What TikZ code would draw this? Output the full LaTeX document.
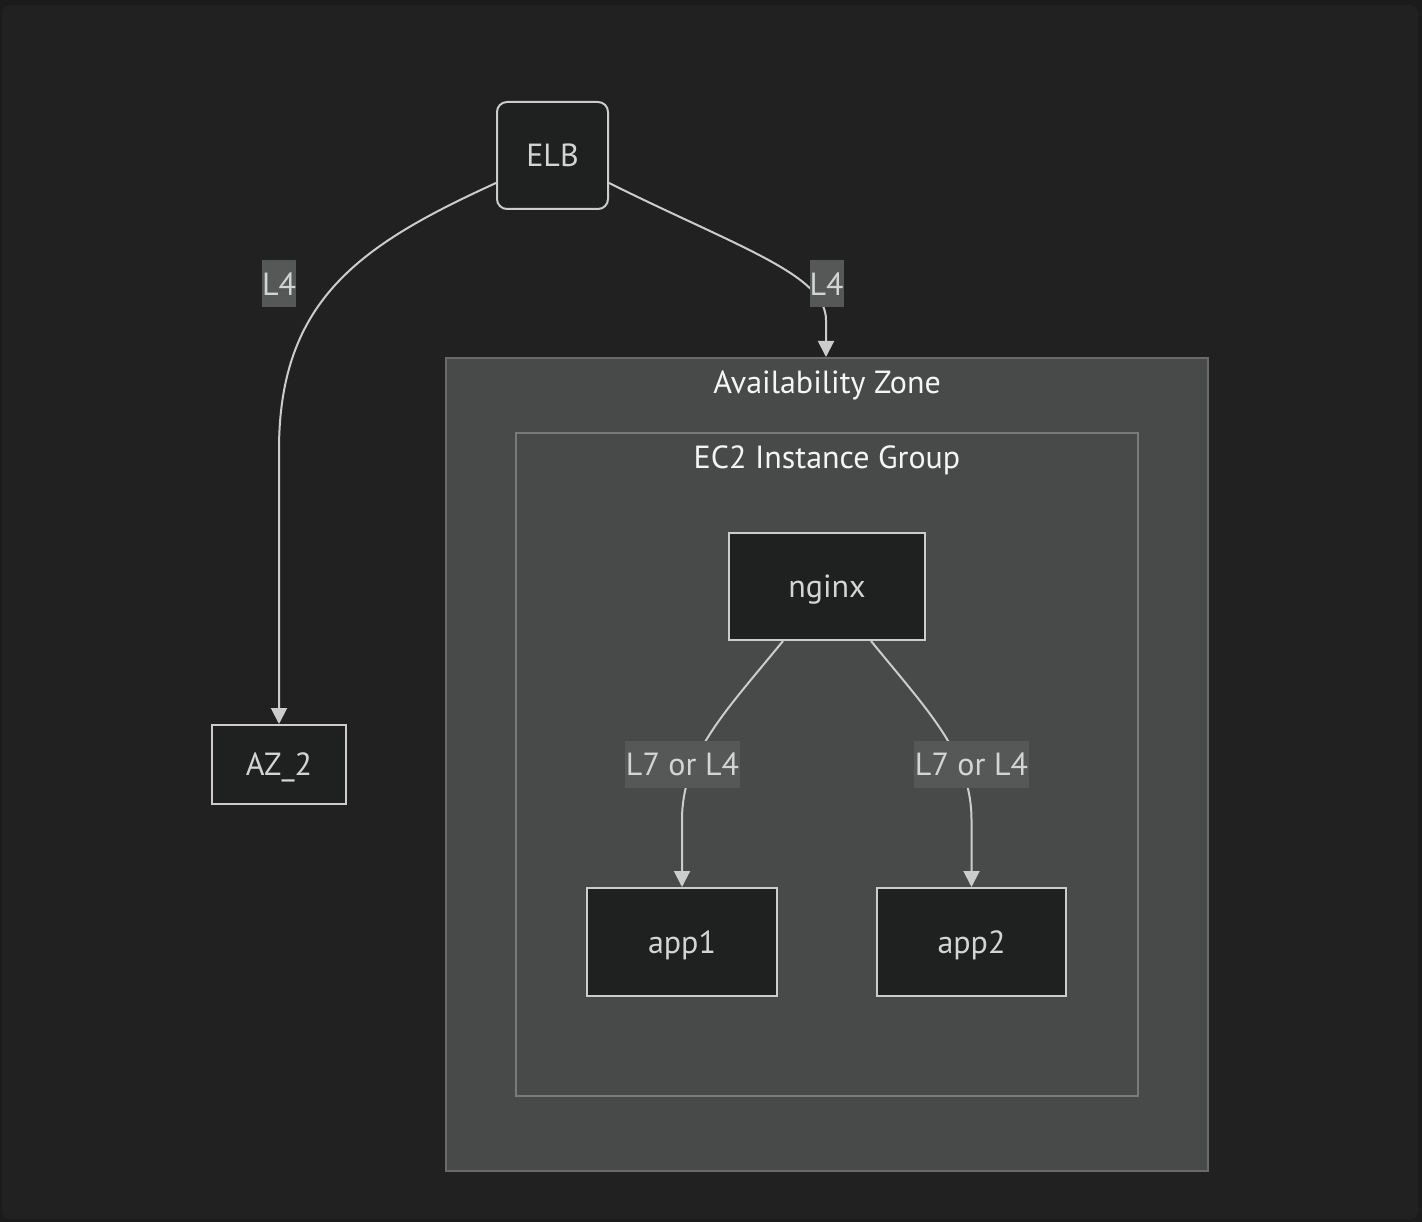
\documentclass[tikz,border=0pt]{standalone}
\usepackage{fontspec}
\setmainfont{PT Sans}
\usetikzlibrary{arrows.meta}
\definecolor{outerbg}{HTML}{1B1B1B}
\definecolor{panelbg}{HTML}{212121}
\definecolor{nodefill}{HTML}{1F2020}
\definecolor{nodeline}{HTML}{CCCCCC}
\definecolor{nodetext}{HTML}{D4D4D4}
\definecolor{azfill}{HTML}{484A49}
\definecolor{azline}{HTML}{6A6A6A}
\definecolor{ecline}{HTML}{7A7A7A}
\definecolor{lblfill}{HTML}{565757}
\definecolor{titletext}{HTML}{F5F5F5}
\tikzset{
  txt/.style={font=\fontsize{32}{38}\selectfont, text height=22.5pt, text depth=0pt},
  box/.style={txt, draw=nodeline, line width=2pt, fill=nodefill, text=nodetext, inner sep=0pt},
  edge/.style={draw=nodeline, line width=2pt, -{Triangle[length=16pt,width=16pt]}},
  lbl/.style={txt, fill=lblfill, text=nodetext, inner sep=0pt},
  title/.style={txt, text=titletext, inner sep=0pt},
}
\begin{document}
\begin{tikzpicture}[x=1pt,y=-1pt]
\useasboundingbox (0,0) rectangle (1422,1222);
\fill[outerbg] (0,0) rectangle (1422,1222);
\fill[panelbg, rounded corners=8pt] (2,5) rectangle (1418,1219);
% clusters
\draw[fill=azfill, draw=azline, line width=2pt] (446,358) rectangle (1208,1171);
\node[title] (aztitle) at (827,382) {Availability Zone};
\draw[fill=azfill, draw=ecline, line width=2pt] (516,433) rectangle (1138,1096);
\node[title] (ectitle) at (827,457) {EC2 Instance Group};
% nodes
\node[box, rounded corners=10pt, minimum width=111pt, minimum height=107pt] (elb) at (552.5,155.5) {ELB};
\node[box, minimum width=134pt, minimum height=79pt] (az2) at (279,764.5) {AZ\_2};
\node[box, minimum width=196pt, minimum height=107pt] (nginx) at (827,586.5) {nginx};
\node[box, minimum width=190pt, minimum height=108pt] (app1) at (682,942) {app1};
\node[box, minimum width=189pt, minimum height=108pt] (app2) at (971.5,942) {app2};
\coordinate (aztop) at (826,357);
% edges
\draw[edge] (elb.west |- 0,183) .. controls (360,245) and (279,300) .. (279,450) -- (az2.north);
\draw[edge] (elb.east |- 0,183) .. controls (740,248) and (826,275) .. (826,320) -- (aztop);
\draw[edge] (783,641) .. controls (725,712) and (682,755) .. (682,820) -- (app1.north);
\draw[edge] (871,641) .. controls (929,712) and (971.5,755) .. (971.5,820) -- (app2.north);
% labels
\node[lbl, minimum width=34pt, minimum height=47pt] (l1) at (279,284) {L4};
\node[lbl, minimum width=34pt, minimum height=47pt] (l2) at (826.5,284) {L4};
\node[lbl, minimum width=115pt, minimum height=47pt] (l3) at (682.5,764.5) {L7 or L4};
\node[lbl, minimum width=115pt, minimum height=47pt] (l4) at (971.5,764.5) {L7 or L4};
\end{tikzpicture}
\end{document}
